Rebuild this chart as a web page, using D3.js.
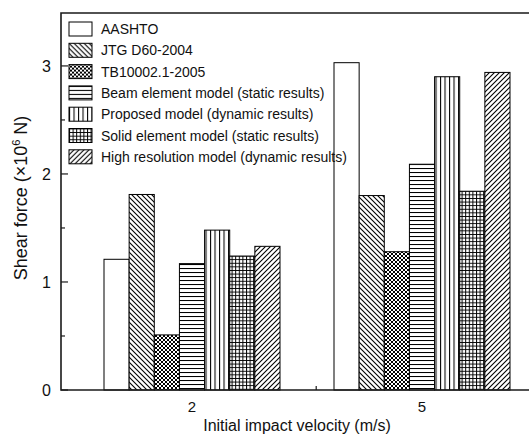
<!DOCTYPE html>
<html>
<head>
<meta charset="utf-8">
<script src="https://cdn.jsdelivr.net/npm/d3@7"></script>
<style>
  html, body { margin: 0; padding: 0; background: #fff; }
  svg { display: block; font-family: "Liberation Sans", Arial, sans-serif; }
</style>
</head>
<body>
<svg id="chart" width="529" height="434"></svg>
<script>
// Impact velocities (m/s) on the x axis
const categories = ["2", "5"];

// Design codes and models compared
const seriesNames = [
  "AASHTO",
  "JTG D60-2004",
  "TB10002.1-2005",
  "Beam element model (static results)",
  "Proposed model (dynamic results)",
  "Solid element model (static results)",
  "High resolution model (dynamic results)"
];

// Shear force (×10^6 N) per series, one value per velocity
const aashto      = [1.21, 3.03];
const jtg         = [1.81, 1.80];
const tb          = [0.51, 1.28];
const beamModel   = [1.17, 2.09];
const proposed    = [1.48, 2.90];
const solidModel  = [1.24, 1.84];
const highRes     = [1.33, 2.94];
const seriesValues = [aashto, jtg, tb, beamModel, proposed, solidModel, highRes];

const yMajorTicks = [0, 1, 2, 3];
const yMinorTicks = [0.5, 1.5, 2.5];

const svg = d3.select("#chart");
const plotLeft = 61, plotTop = 13, plotBottom = 390, plotRight = 540;

const y = d3.scaleLinear().domain([0, 3.49]).range([plotBottom, plotTop]);
// Group centres along the velocity axis
const xIdx = d3.scaleLinear().domain([0, 1]).range([192, 422]);
const x0 = d3.scalePoint().domain(categories).range([xIdx(0), xIdx(1)]);
const x1 = d3.scaleBand().domain(seriesNames).range([-88, 88]);

// Fill patterns
const defs = svg.append("defs");
function pat(id, w, h, draw) {
  const p = defs.append("pattern").attr("id", id)
    .attr("patternUnits", "userSpaceOnUse").attr("width", w).attr("height", h);
  p.append("rect").attr("width", w).attr("height", h).attr("fill", "#fff");
  draw(p);
}
pat("p-back", 5, 5, p => p.append("path")
  .attr("d", "M-1,-1 L6,6 M-1,4 L1,6 M4,-1 L6,1")
  .attr("stroke", "#000").attr("stroke-width", 1.1));
pat("p-cross", 4, 4, p => p.append("path")
  .attr("d", "M0,0 L4,4 M4,0 L0,4")
  .attr("stroke", "#000").attr("stroke-width", 1));
pat("p-horiz", 4, 4, p => p.append("path")
  .attr("d", "M0,0.5 L4,0.5").attr("stroke", "#000").attr("stroke-width", 1.1));
pat("p-vert", 4.5, 4, p => p.append("path")
  .attr("d", "M0.5,0 L0.5,4").attr("stroke", "#000").attr("stroke-width", 1.1));
pat("p-grid", 3.6, 3.6, p => p.append("path")
  .attr("d", "M0,0.5 L3.6,0.5 M0.5,0 L0.5,3.6").attr("stroke", "#000").attr("stroke-width", 1));
pat("p-fwd", 5, 5, p => p.append("path")
  .attr("d", "M-1,6 L6,-1 M-1,1 L1,-1 M4,6 L6,4")
  .attr("stroke", "#000").attr("stroke-width", 1.1));

const fills = ["#fff", "url(#p-back)", "url(#p-cross)", "url(#p-horiz)",
               "url(#p-vert)", "url(#p-grid)", "url(#p-fwd)"];

// Bars
const groups = svg.append("g").selectAll("g")
  .data(categories).join("g")
  .attr("transform", c => `translate(${x0(c)},0)`);

groups.selectAll("rect")
  .data((c, ci) => seriesNames.map((s, si) => ({ s, si, v: seriesValues[si][ci] })))
  .join("rect")
  .attr("x", d => x1(d.s))
  .attr("width", x1.bandwidth())
  .attr("y", d => y(d.v))
  .attr("height", d => y(0) - y(d.v))
  .attr("fill", d => fills[d.si])
  .attr("stroke", "#000")
  .attr("stroke-width", 1);

// Frame (right side runs past the visible area)
const axisColor = "#1a1a1a";
svg.append("path")
  .attr("d", `M${plotRight},${plotTop} L${plotLeft},${plotTop} L${plotLeft},${plotBottom} L${plotRight},${plotBottom}`)
  .attr("fill", "none").attr("stroke", axisColor).attr("stroke-width", 1.6);

// Y axis ticks (inward)
const yAxis = svg.append("g").attr("transform", `translate(${plotLeft},0)`);
yAxis.selectAll("line.major").data(yMajorTicks).join("line")
  .attr("class", "major")
  .attr("x1", 0).attr("x2", 7)
  .attr("y1", d => y(d)).attr("y2", d => y(d))
  .attr("stroke", axisColor).attr("stroke-width", 1.2);
yAxis.selectAll("line.minor").data(yMinorTicks).join("line")
  .attr("class", "minor")
  .attr("x1", 0).attr("x2", 4)
  .attr("y1", d => y(d)).attr("y2", d => y(d))
  .attr("stroke", axisColor).attr("stroke-width", 1.2);
yAxis.selectAll("text").data(yMajorTicks).join("text")
  .attr("x", -10).attr("y", d => y(d)).attr("dy", "0.36em")
  .attr("text-anchor", "end").attr("font-size", 16).attr("fill", "#111")
  .text(d => d);

// X axis: minor tick between the velocity groups, labels below
svg.append("line")
  .attr("x1", xIdx(0.54)).attr("x2", xIdx(0.54))
  .attr("y1", plotBottom).attr("y2", plotBottom - 4)
  .attr("stroke", axisColor).attr("stroke-width", 1.2);
svg.append("g").selectAll("text").data(categories).join("text")
  .attr("x", d => x0(d)).attr("y", 412)
  .attr("text-anchor", "middle").attr("font-size", 15).attr("fill", "#111")
  .text(d => d);

// Axis titles
svg.append("text")
  .attr("x", 297).attr("y", 431)
  .attr("text-anchor", "middle").attr("font-size", 16).attr("fill", "#111")
  .text("Initial impact velocity (m/s)");

const yTitle = svg.append("text")
  .attr("transform", "translate(27,198) rotate(-90)")
  .attr("text-anchor", "middle").attr("font-size", 18).attr("fill", "#111");
yTitle.append("tspan").text("Shear force (×10");
yTitle.append("tspan").attr("dy", -7).attr("font-size", 11).text("6");
yTitle.append("tspan").attr("dy", 7).text(" N)");

// Legend
const legend = svg.append("g").attr("transform", "translate(69,22)");
const rows = legend.selectAll("g").data(seriesNames).join("g")
  .attr("transform", (d, i) => `translate(0,${i * 21.3})`);
rows.append("rect")
  .attr("width", 23).attr("height", 14)
  .attr("fill", (d, i) => fills[i])
  .attr("stroke", "#000").attr("stroke-width", 1);
rows.append("text")
  .attr("x", 32).attr("y", 7).attr("dy", "0.36em")
  .attr("font-size", 14).attr("fill", "#111")
  .text(d => d);
</script>
</body>
</html>
